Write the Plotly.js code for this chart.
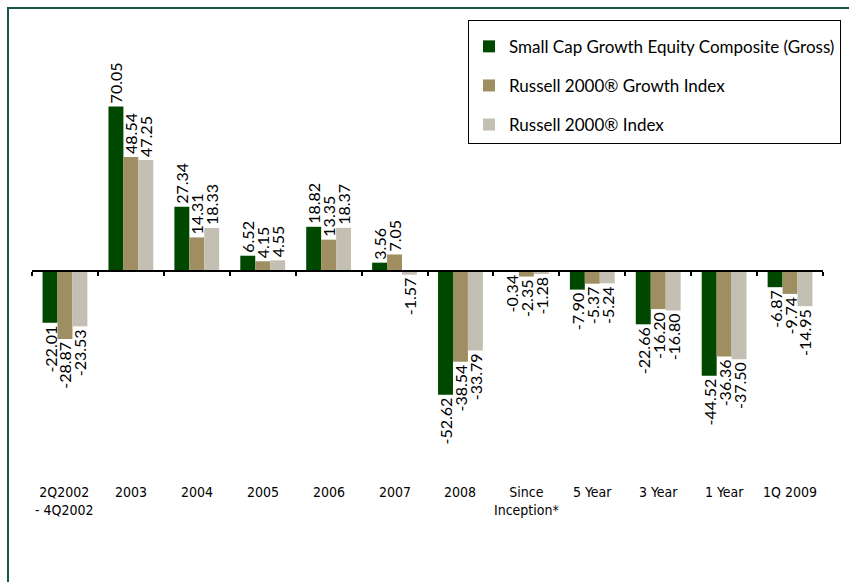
<!DOCTYPE html>
<html>
<head>
<meta charset="utf-8">
<script src="https://cdn.plot.ly/plotly-3.0.1.min.js"></script>
<style>
  html, body { margin: 0; padding: 0; background: #ffffff; }
  #wrap { position: relative; width: 849px; height: 582px; overflow: hidden; }
  #frame { position: absolute; left: 7px; top: 7px; width: 900px; height: 700px;
           border-left: 2px solid #17564a; border-top: 2px solid #17564a; pointer-events: none; }
  #chart { position: absolute; left: 0; top: 0; width: 849px; height: 582px; }
</style>
</head>
<body>
<div id="wrap">
  <div id="chart"></div>
  <div id="frame"></div>
</div>
<script>
const categories = ["2Q2002<br>- 4Q2002", "2003", "2004", "2005", "2006", "2007", "2008",
                    "Since<br>Inception*", "5 Year", "3 Year", "1 Year", "1Q 2009"];
const seriesNames = ["Small Cap Growth Equity Composite (Gross)",
                     "Russell 2000® Growth Index",
                     "Russell 2000® Index"];
const composite = [-22.01, 70.05, 27.34, 6.52, 18.82, 3.56, -52.62, -0.34, -7.90, -22.66, -44.52, -6.87];
const growthIdx = [-28.87, 48.54, 14.31, 4.15, 13.35, 7.05, -38.54, -2.35, -5.37, -16.20, -36.36, -9.74];
const r2000Idx  = [-23.53, 47.25, 18.33, 4.55, 18.37, -1.57, -33.79, -1.28, -5.24, -16.80, -37.50, -14.95];
const colors = ["#004800", "#9e8e62", "#c4bfb3"];

const yRange = [-88.9, 106.8];
const idx = categories.map((_, i) => i);
const zeroPos = (0 - yRange[0]) / (yRange[1] - yRange[0]);

const series = [composite, growthIdx, r2000Idx];
const traces = series.map((vals, k) => ({
  type: "bar",
  name: seriesNames[k],
  legendgroup: "g" + k,
  x: idx,
  y: vals,
  marker: { color: colors[k], line: { width: 0 } },
  text: vals.map(v => v.toFixed(2)),
  textposition: "outside",
  textangle: -90,
  constraintext: "none",
  cliponaxis: false,
  textfont: { family: "Lato, 'Open Sans', sans-serif", size: 16, color: "#000000" },
  hoverinfo: "skip"
}));

const catAnnotations = categories.map((c, i) => ({
  x: idx[i], xref: "x", y: 0, yref: "paper",
  yanchor: "top", xanchor: "center", yshift: -2,
  text: c, showarrow: false, align: "center",
  font: { family: "'Liberation Sans Narrow', 'DejaVu Sans Condensed', sans-serif", size: 14, color: "#000000" }
}));

const layout = {
  width: 849, height: 582,
  paper_bgcolor: "rgba(0,0,0,0)", plot_bgcolor: "rgba(0,0,0,0)",
  margin: { l: 32, r: 26, t: 20, b: 102, autoexpand: false },
  barmode: "group",
  bargap: 0.32,
  bargroupgap: 0,
  showlegend: true,
  legend: {
    x: (468 - 32) / 791, xanchor: "left",
    y: 1, yanchor: "top",
    bordercolor: "#000000", borderwidth: 1,
    bgcolor: "#ffffff",
    font: { family: "Lato, 'Open Sans', sans-serif", size: 17, color: "#000000" },
    traceorder: "grouped",
    tracegroupgap: 14,
    itemwidth: 30,
    title: { text: " ", font: { size: 6 } }
  },
  annotations: catAnnotations,
  xaxis: {
    type: "linear",
    range: [-0.5, categories.length - 0.5],
    anchor: "free", position: zeroPos,
    showline: true, linecolor: "#000000", linewidth: 2,
    tickmode: "array",
    tickvals: idx.concat([categories.length]).map(i => i - 0.5),
    ticks: "outside", ticklen: 4, tickwidth: 2, tickcolor: "#000000",
    showticklabels: false, showgrid: false, zeroline: false, fixedrange: true
  },
  yaxis: {
    range: yRange, visible: false, showgrid: false, zeroline: false, fixedrange: true
  }
};

Plotly.newPlot("chart", traces, layout, { staticPlot: true, displayModeBar: false });
</script>
</body>
</html>
